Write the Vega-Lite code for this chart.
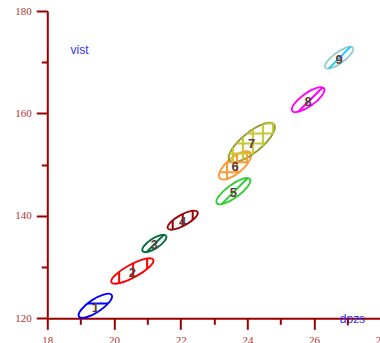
{
  "$schema": "https://vega.github.io/schema/vega-lite/v6.json",
  "width": 333.5,
  "height": 307.3,
  "autosize": {"type": "none"},
  "padding": {"left": 47.3, "top": 11, "right": 0, "bottom": 24.7},
  "background": "white",
  "config": {"view": {"stroke": null}},
  "data": {
    "values": [
      {"id": "1", "dpzs": 19.44, "vist": 122.44, "tilt": 326.5},
      {"id": "2", "dpzs": 20.55, "vist": 129.24, "tilt": 331.5},
      {"id": "3", "dpzs": 21.21, "vist": 134.61, "tilt": 327},
      {"id": "4", "dpzs": 22.06, "vist": 139.16, "tilt": 331},
      {"id": "5", "dpzs": 23.58, "vist": 144.82, "tilt": 324},
      {"id": "6", "dpzs": 23.63, "vist": 149.86, "tilt": 320},
      {"id": "7", "dpzs": 24.13, "vist": 154.34, "tilt": 321},
      {"id": "8", "dpzs": 25.82, "vist": 162.68, "tilt": 324.5},
      {"id": "9", "dpzs": 26.75, "vist": 170.88, "tilt": 324}
    ]
  },
  "layer": [
    {
      "mark": {"type": "point", "filled": false, "opacity": 1, "size": 4, "strokeWidth": 1.9},
      "encoding": {
        "x": {
          "field": "dpzs", "type": "quantitative",
          "scale": {"domain": [18, 28], "nice": false, "zero": false},
          "axis": {
            "orient": "bottom", "values": [18, 20, 22, 24, 26, 28], "grid": false,
            "domainColor": "#990000", "domainWidth": 2,
            "tickColor": "#990000", "tickWidth": 2, "tickSize": 11,
            "labelFont": "Liberation Serif", "labelFontSize": 11, "labelColor": "#b03434",
            "labelPadding": 5, "labelFlush": false, "labelOverlap": false,
            "title": "dpzs", "titleFont": "Liberation Sans", "titleFontSize": 12, "titleFontWeight": "normal",
            "titleColor": "#3333ff", "titleX": 292, "titleY": 4.5, "titleAlign": "left", "titleBaseline": "alphabetic", "titleAngle": 0
          }
        },
        "y": {
          "field": "vist", "type": "quantitative",
          "scale": {"domain": [120, 180], "nice": false, "zero": false},
          "axis": {
            "orient": "left", "values": [120, 140, 160, 180], "grid": false,
            "domainColor": "#990000", "domainWidth": 2,
            "tickColor": "#990000", "tickWidth": 2, "tickSize": 11,
            "labelFont": "Liberation Serif", "labelFontSize": 11, "labelColor": "#b03434",
            "labelPadding": 5, "labelFlush": false, "labelOverlap": false,
            "title": "vist", "titleFont": "Liberation Sans", "titleFontSize": 12, "titleFontWeight": "normal",
            "titleColor": "#3333ff", "titleX": 22.7, "titleY": 42, "titleAlign": "left", "titleBaseline": "alphabetic", "titleAngle": 0
          }
        },
        "shape": {
          "field": "id", "type": "nominal", "legend": null,
          "scale": {
            "domain": ["1", "2", "3", "4", "5", "6", "7", "8", "9"],
            "range": [
              "M19.6,0C19.6,3.59,10.83,6.5,0,6.5C-10.83,6.5,-19.6,3.59,-19.6,0C-19.6,-3.59,-10.83,-6.5,0,-6.5C10.83,-6.5,19.6,-3.59,19.6,0Z",
              "M23.8,0C23.8,3.59,13.14,6.5,0,6.5C-13.14,6.5,-23.8,3.59,-23.8,0C-23.8,-3.59,-13.14,-6.5,0,-6.5C13.14,-6.5,23.8,-3.59,23.8,0Z",
              "M14,0C14,2.76,7.73,5,0,5C-7.73,5,-14,2.76,-14,0C-14,-2.76,-7.73,-5,0,-5C7.73,-5,14,-2.76,14,0Z",
              "M17,0C17,3.04,9.39,5.5,0,5.5C-9.39,5.5,-17,3.04,-17,0C-17,-3.04,-9.39,-5.5,0,-5.5C9.39,-5.5,17,-3.04,17,0Z",
              "M20.5,0C20.5,3.59,11.32,6.5,0,6.5C-11.32,6.5,-20.5,3.59,-20.5,0C-20.5,-3.59,-11.32,-6.5,0,-6.5C11.32,-6.5,20.5,-3.59,20.5,0Z",
              "M20,0C20,4.42,11.05,8,0,8C-11.05,8,-20,4.42,-20,0C-20,-4.42,-11.05,-8,0,-8C11.05,-8,20,-4.42,20,0Z",
              "M28.6,0C28.6,5.52,15.8,10,0,10C-15.8,10,-28.6,5.52,-28.6,0C-28.6,-5.52,-15.8,-10,0,-10C15.8,-10,28.6,-5.52,28.6,0Z",
              "M19.5,0C19.5,3.59,10.77,6.5,0,6.5C-10.77,6.5,-19.5,3.59,-19.5,0C-19.5,-3.59,-10.77,-6.5,0,-6.5C10.77,-6.5,19.5,-3.59,19.5,0Z",
              "M17,0C17,3.04,9.39,5.5,0,5.5C-9.39,5.5,-17,3.04,-17,0C-17,-3.04,-9.39,-5.5,0,-5.5C9.39,-5.5,17,-3.04,17,0Z"
            ]
          }
        },
        "stroke": {
          "field": "id", "type": "nominal", "legend": null,
          "scale": {
            "domain": ["1", "2", "3", "4", "5", "6", "7", "8", "9"],
            "range": ["#0000ff", "#ff0000", "#006e3c", "#990000", "#33cc33", "#ff9933", "#999933", "#ff00ff", "#99cccc"]
          }
        },
        "angle": {"field": "tilt", "type": "quantitative", "scale": {"domain": [0, 360], "range": [0, 360]}}
      }
    },
    {
      "mark": {"type": "point", "filled": false, "opacity": 1, "size": 4, "strokeWidth": 2},
      "encoding": {
        "x": {
          "field": "dpzs", "type": "quantitative",
          "scale": {"domain": [18, 28], "nice": false, "zero": false},
          "axis": {
            "orient": "bottom", "values": [19, 21, 23, 25, 27], "grid": false, "domain": false, "labels": false,
            "tickColor": "#990000", "tickWidth": 2, "tickSize": 6, "title": null
          }
        },
        "y": {
          "field": "vist", "type": "quantitative",
          "scale": {"domain": [120, 180], "nice": false, "zero": false},
          "axis": {
            "orient": "left", "values": [130, 150, 170], "grid": false, "domain": false, "labels": false,
            "tickColor": "#990000", "tickWidth": 2, "tickSize": 6, "title": null
          }
        },
        "shape": {
          "field": "id", "type": "nominal", "legend": null,
          "scale": {
            "domain": ["1", "2", "3", "4", "5", "6", "7", "8", "9"],
            "range": [
              "M-7.86,-2.3L12.8,-2.3",
              "M-13.2,0.78L-13.2,12.21M0.8,-7.7L0.8,6.92M14.8,-12.5L14.8,-2.05",
              "M9.48,-8.68L-7.83,8.63",
              "M-10,0.17L-10,9.45M0,-6.19L0,6.19M10,-9.45L10,-0.17",
              "M14.32,-13.12L-11.76,12.96",
              "M-8,-3.53L-8,13.67M2,-11.09L2,8.56M12,-14.23L12,-1M-8.54,-3L13.43,-3M-15.49,7L4.07,7M6.02,-13L15.19,-13",
              "M-18.8,5.18L-18.8,19.56M-8.8,-5.66L-8.8,17.24M1.2,-13.16L1.2,11.58M11.2,-18.2L11.2,3.46M21.2,-18.87L21.2,-9.03M13.04,-18.8L21.31,-18.8M-5,-8.8L21.08,-8.8M-15.66,1.2L13.47,1.2M-22.21,11.2L1.74,11.2",
              "M14.47,-12.27L-9.92,12.12",
              "M11.44,-10.94L-10.39,10.89"
            ]
          }
        },
        "stroke": {
          "field": "id", "type": "nominal", "legend": null,
          "scale": {
            "domain": ["1", "2", "3", "4", "5", "6", "7", "8", "9"],
            "range": ["#0000ff", "#ff0000", "#006e3c", "#990000", "#33cc33", "#ff9933", "#c8c832", "#ff00ff", "#22ccff"]
          }
        }
      }
    },
    {
      "mark": {"type": "text", "font": "Liberation Sans", "fontSize": 13, "fontWeight": "bold", "color": "#5a3a3a", "baseline": "middle", "align": "center", "dy": 2},
      "encoding": {
        "x": {"field": "dpzs", "type": "quantitative", "scale": {"domain": [18, 28], "nice": false, "zero": false}, "axis": null},
        "y": {"field": "vist", "type": "quantitative", "scale": {"domain": [120, 180], "nice": false, "zero": false}, "axis": null},
        "text": {"field": "id", "type": "nominal"}
      }
    }
  ],
  "resolve": {
    "scale": {"shape": "independent", "stroke": "independent"},
    "axis": {"x": "independent", "y": "independent"}
  }
}
